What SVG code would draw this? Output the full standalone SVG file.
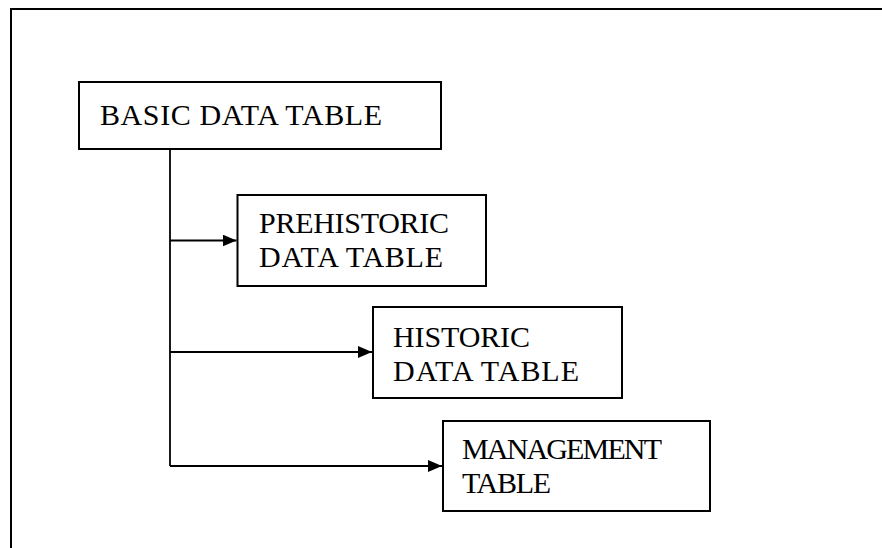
<svg xmlns="http://www.w3.org/2000/svg" width="882" height="548" viewBox="0 0 882 548">
<style>
.box{fill:#fff;stroke:#000;stroke-width:2}
.t{font-family:"Liberation Serif","Times New Roman",serif;font-size:30px;fill:#000}
.c{fill:none;stroke:#000;stroke-width:1.8}
</style>
<defs>
<marker id="ah" markerWidth="14" markerHeight="12" refX="14" refY="6" orient="auto" markerUnits="userSpaceOnUse">
<path d="M0,0 L14,6 L0,12 Z" fill="#000"/>
</marker>
</defs>
<rect width="882" height="548" fill="#fff"/>
<path d="M11,548 V9 H882" fill="none" stroke="#000" stroke-width="2"/>
<g id="connectors">
<path class="c" d="M170,150 V466"/>
<path class="c" d="M170,240.5 H236.5" marker-end="url(#ah)"/>
<path class="c" d="M170,352 H372" marker-end="url(#ah)"/>
<path class="c" d="M170,466 H442" marker-end="url(#ah)"/>
</g>
<g id="basic">
<rect class="box" x="79" y="82" width="362" height="67"/>
<text class="t" x="100" y="125" textLength="282" lengthAdjust="spacing">BASIC DATA TABLE</text>
</g>
<g id="prehistoric">
<rect class="box" x="237.5" y="195" width="248.5" height="91"/>
<text class="t" x="259" y="233" textLength="190" lengthAdjust="spacing">PREHISTORIC</text>
<text class="t" x="259" y="267" textLength="184" lengthAdjust="spacing">DATA TABLE</text>
</g>
<g id="historic">
<rect class="box" x="373" y="307" width="249" height="91"/>
<text class="t" x="393" y="347" textLength="137" lengthAdjust="spacing">HISTORIC</text>
<text class="t" x="393" y="381" textLength="186" lengthAdjust="spacing">DATA TABLE</text>
</g>
<g id="management">
<rect class="box" x="443" y="421" width="267" height="90"/>
<text class="t" x="462" y="459" textLength="200" lengthAdjust="spacing">MANAGEMENT</text>
<text class="t" x="462" y="493" textLength="89" lengthAdjust="spacing">TABLE</text>
</g>
</svg>
